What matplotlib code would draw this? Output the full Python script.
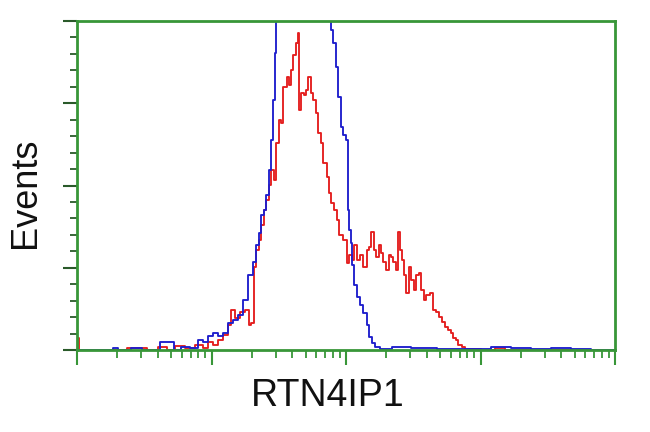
import numpy as np
import matplotlib
matplotlib.use("Agg")
import matplotlib.pyplot as plt
from matplotlib.ticker import LogLocator, MultipleLocator, NullFormatter

# Channel numbers (0-1023 over 4 log decades) and event counts
blue_ch = [0, 63, 72, 82, 120, 129, 181, 188, 206, 225,
           234, 244, 253, 263, 272, 282, 291, 301, 310, 320,
           329, 339, 344, 348, 354, 358, 363, 367, 371, 375,
           377, 381, 386, 405, 424, 443, 462, 481, 485, 491,
           495, 500, 504, 510, 514, 516, 520, 523, 525, 531,
           535, 542, 548, 554, 558, 565, 571, 582, 615, 653,
           710, 767, 805, 843, 881, 919, 957, 995, 1023]
blue_cnt = [0, 0, 0.6, 0, 0.6, 0, 2.4, 0, 0.9, 0.6,
            3.0, 2.4, 4.3, 5.2, 4.3, 5.2, 8.2, 9.1, 10.6, 15.2,
            22.8, 26.8, 31.9, 35.6, 41.0, 42.6, 47.1, 54.7, 63.8, 76.0,
            90.3, 105, 115, 125, 130, 128, 120, 110, 97.3, 93.3,
            86.0, 76.9, 67.8, 65.4, 63.8, 42.6, 36.5, 32.5, 25.8, 19.8,
            16.1, 13.7, 11.2, 7.6, 4.0, 2.1, 0.9, 0.3, 0.9, 0.6,
            0.3, 0.3, 0.9, 0.6, 0.3, 0.6, 0.3, 0, 0]

red_ch = [0, 6, 44, 129, 139, 167, 177, 196, 215, 234,
          244, 253, 263, 272, 282, 291, 297, 306, 316, 324,
          329, 333, 339, 344, 348, 354, 358, 363, 367, 371,
          377, 381, 386, 390, 396, 402, 405, 409, 415, 419,
          422, 424, 430, 434, 438, 443, 447, 453, 457, 462,
          466, 472, 478, 481, 487, 491, 497, 502, 510, 516,
          520, 525, 529, 535, 542, 548, 554, 558, 563, 567,
          571, 577, 580, 586, 590, 596, 599, 605, 609, 613,
          617, 620, 624, 628, 634, 639, 643, 649, 653, 658,
          662, 668, 676, 681, 687, 691, 698, 704, 710, 714,
          719, 723, 729, 735, 742, 748, 786, 805, 824, 1023]
red_cnt = [3.6, 0, 0, 0.6, 0, 0.9, 0, 1.2, 0.6, 1.5,
           0.6, 2.4, 1.5, 3.0, 4.6, 7.6, 12.2, 9.7, 11.6, 12.2,
           7.6, 8.2, 25.2, 30.4, 33.4, 38.0, 42.6, 45.6, 50.2, 54.7,
           51.7, 62.9, 69.9, 69.0, 80.0, 83.0, 80.6, 85.1, 89.7, 93.3,
           96.4, 73.0, 78.1, 77.5, 79.0, 83.0, 78.1, 76.0, 72.0, 66.0,
           62.9, 56.8, 52.6, 47.7, 44.7, 42.6, 39.5, 35.0, 33.4, 26.4,
           28.9, 27.4, 31.9, 27.4, 28.9, 25.2, 30.4, 31.3, 35.9, 30.4,
           28.3, 31.9, 29.5, 26.8, 24.3, 28.9, 28.3, 26.8, 24.3, 35.9,
           30.4, 27.4, 22.8, 17.3, 25.2, 21.3, 18.2, 22.8, 23.4, 18.2,
           15.2, 16.7, 17.3, 12.2, 11.6, 10.0, 8.5, 7.0, 6.1, 5.2,
           3.6, 3.0, 1.5, 0.9, 0.3, 0.3, 0, 0.6, 0, 0]

x_label = "RTN4IP1"
y_label = "Events"

green = "#389638"
tickc = "#2a5a2a"

fig = plt.figure(figsize=(6.5, 4.32), dpi=100)
ax = fig.add_axes([77/650, 1-350/432, (615-77)/650, (350-21)/432])

bx = 10 ** (np.array(blue_ch) / 256.0)
rx = 10 ** (np.array(red_ch) / 256.0)
ax.plot(rx, red_cnt, color="#e41e1e", lw=1.35, drawstyle="steps-mid")
ax.plot(bx, blue_cnt, color="#1e1ecc", lw=1.35, drawstyle="steps-mid")

ax.set_xscale("log")
ax.set_xlim(1, 10**4)
ax.set_ylim(0, 100)
ax.xaxis.set_major_locator(LogLocator(base=10, numticks=10))
ax.xaxis.set_minor_locator(LogLocator(base=10, subs=np.arange(2, 10), numticks=100))
ax.xaxis.set_major_formatter(NullFormatter())
ax.xaxis.set_minor_formatter(NullFormatter())
ax.yaxis.set_major_locator(MultipleLocator(25))
ax.yaxis.set_minor_locator(MultipleLocator(5))
ax.yaxis.set_major_formatter(NullFormatter())

for s in ax.spines.values():
    s.set_color(green)
    s.set_linewidth(2.0)
ax.tick_params(axis="x", which="major", direction="out", length=11, width=1.5, color=green)
ax.tick_params(axis="x", which="minor", direction="out", length=5.5, width=1.3, color=green)
ax.tick_params(axis="y", which="major", direction="out", length=10, width=1.5, color=tickc)
ax.tick_params(axis="y", which="minor", direction="out", length=5, width=1.3, color=tickc)

fig.text(328/650, 1-396/432, x_label, ha="center", va="center",
         fontsize=27, family="Liberation Sans", color="#111111")
fig.text(25/650, 1-193/432, y_label, ha="center", va="center", rotation=90,
         fontsize=26, family="Liberation Sans", color="#111111")

fig.savefig("out.png", dpi=100)
